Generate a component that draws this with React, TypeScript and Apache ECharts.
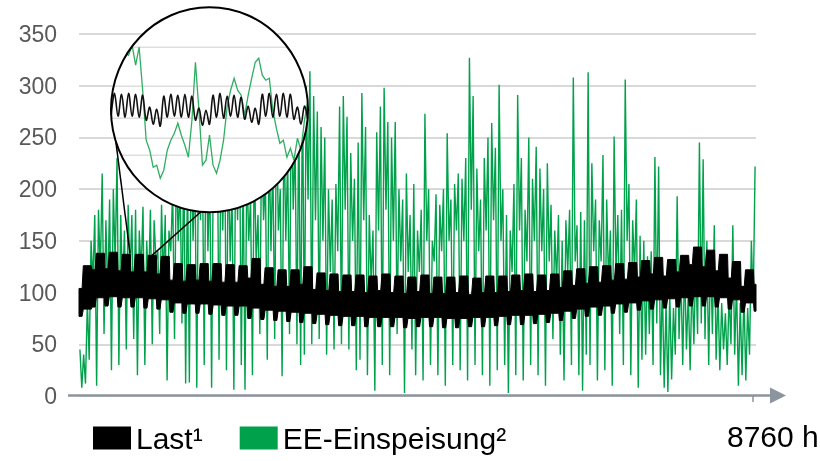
import React, { useEffect, useRef } from "react";
import * as echarts from "echarts";

// ---------- data ----------
const HOURS = 8760;
const Y_MAX = 350;
const Y_STEP = 50;

// EE-Einspeisung (renewable feed-in), one reading per day, per month
const eeJan = [45, 8, 40, 12, 90, 35, 150, 110, 175, 10, 180, 120, 215, 60, 170, 95, 190, 25, 200, 130, 230, 30, 175, 100, 160, 45, 185, 115, 175, 55, 180];
const eeFeb = [20, 160, 120, 183, 30, 150, 105, 180, 50, 170, 130, 140, 60, 185, 110, 175, 15, 160, 140, 200, 55, 230, 150, 210, 70, 240, 12, 220];
const eeMar = [13, 250, 150, 230, 8, 260, 170, 240, 30, 270, 140, 220, 8, 250, 180, 280, 35, 230, 160, 260, 25, 240, 130, 200, 6, 250, 170, 270, 30, 220, 6];
const eeApr = [230, 150, 190, 20, 240, 130, 175, 60, 260, 170, 210, 35, 250, 140, 230, 55, 280, 160, 200, 19, 270, 150, 230, 60, 300, 180, 250, 50, 280, 30];
const eeMay = [310, 40, 300, 190, 314, 50, 290, 170, 275, 55, 260, 150, 250, 40, 200, 120, 190, 45, 205, 140, 280, 50, 290, 180, 270, 45, 235, 150, 210, 25, 245];
const eeJun = [35, 293, 170, 260, 20, 175, 110, 160, 5, 255, 160, 280, 30, 298, 180, 265, 20, 250, 150, 265, 60, 200, 130, 190, 3, 215, 120, 175, 45, 205];
const eeJul = [20, 160, 120, 180, 15, 273, 150, 200, 30, 150, 130, 195, 20, 185, 140, 200, 10, 254, 150, 190, 30, 205, 160, 215, 25, 210, 150, 230, 15, 327, 180];
const eeAug = [290, 30, 220, 140, 190, 20, 230, 160, 250, 10, 264, 170, 240, 25, 301, 150, 200, 30, 175, 3, 160, 120, 205, 20, 291, 160, 230, 15, 180, 130, 250];
const eeSep = [30, 210, 150, 241, 20, 220, 140, 200, 10, 225, 130, 185, 55, 160, 110, 175, 40, 150, 15, 170, 120, 180, 30, 308, 130, 165, 20, 178, 5, 170];
const eeOct = [40, 313, 30, 225, 140, 190, 15, 170, 130, 233, 25, 190, 110, 160, 10, 251, 120, 175, 60, 180, 30, 306, 150, 205, 20, 170, 120, 190, 8, 155, 35];
const eeNov = [150, 40, 135, 60, 140, 30, 231, 70, 222, 20, 110, 8, 90, 4, 100, 16, 85, 40, 193, 55, 120, 30, 130, 45, 100, 25, 115, 50, 130, 60];
const eeDec = [245, 70, 229, 55, 150, 30, 140, 60, 165, 35, 100, 25, 90, 45, 80, 30, 100, 50, 165, 40, 110, 10, 90, 20, 100, 15, 85, 40, 150, 90, 222];

// Last (load): weekly envelope (week starts with the weekend), weekday and weekend levels
const loadTopWeekday = [126, 138, 139, 137, 137, 136, 135, 128, 127, 128, 128, 127, 126, 133, 124, 122, 122, 125, 119, 118, 117, 117, 116, 118, 116, 115, 117, 115, 115, 116, 114, 116, 116, 117, 118, 117, 118, 121, 123, 125, 126, 128, 129, 131, 134, 132, 136, 144, 141, 137, 130, 122, 110];
const loadTopWeekend = [104, 122, 123, 121, 120, 120, 118, 112, 111, 112, 111, 110, 110, 114, 108, 106, 106, 108, 103, 102, 101, 101, 100, 102, 100, 99, 101, 99, 99, 100, 98, 100, 100, 101, 102, 101, 102, 105, 107, 109, 110, 112, 113, 115, 118, 116, 120, 127, 125, 121, 114, 106, 108];
const loadBottomWeekday = [84, 95, 96, 95, 95, 94, 93, 90, 89, 89, 88, 87, 87, 85, 83, 82, 81, 80, 79, 78, 77, 77, 76, 76, 76, 75, 76, 76, 75, 75, 76, 76, 77, 78, 78, 79, 80, 82, 84, 86, 87, 89, 90, 92, 93, 94, 95, 96, 96, 95, 93, 90, 85];
const loadBottomWeekend = [77, 86, 87, 86, 86, 85, 84, 81, 80, 80, 79, 78, 78, 75, 74, 73, 72, 71, 70, 69, 68, 68, 67, 67, 67, 66, 67, 67, 66, 66, 67, 67, 68, 69, 69, 70, 71, 73, 75, 77, 78, 80, 81, 83, 84, 85, 86, 87, 87, 86, 84, 81, 82];

// Magnifier inset (half-day steps, inset units)
const insetLoad = [96, 119, 96, 118, 95, 119, 96, 118, 95, 117, 92, 105, 88, 103, 86, 116, 95, 118, 96, 117, 95, 118, 95, 116, 92, 104, 87, 102, 88, 117, 95, 119, 94, 116, 96, 117, 95, 115, 93, 106, 90, 104, 88, 118, 96, 119, 95, 118, 96, 119, 95, 118, 93, 105, 88, 106, 92];
const insetEE = [122, 132, 144, 152, 159, 157, 167, 147, 165, 122, 72, 62, 45, 47, 34, 42, 62, 72, 79, 89, 77, 67, 55, 92, 150, 102, 47, 52, 77, 47, 39, 52, 72, 105, 122, 134, 122, 117, 97, 117, 134, 150, 154, 137, 132, 134, 102, 84, 69, 72, 55, 64, 52, 74, 62, 92, 112];
const insetGridValues = [165, 126, 94, 74, 57];
const connectorHours = [660, 945];
const connectorValues = [138, 136];

const legendNames = ["Last\u00b9", "EE-Einspeisung\u00b2"];
const xEndLabel = "8760 h";

// ---------- styling / layout ----------
const FONT = '"Liberation Sans", Arial, Helvetica, sans-serif';
const GREEN = "#00a14b";
const AXIS_GREY = "#8c959d";
const ELL = { cx: 209.5, cy: 109.7, rx: 98.5, ry: 102.5 };
const CONNECTOR_ANGLES = [162, 95];

function clipToEllipse(pts: number[][]): number[][][] {
  const { cx, cy, rx, ry } = ELL;
  const runs: number[][][] = [];
  let cur: number[][] = [];
  for (let i = 0; i < pts.length - 1; i++) {
    const a = pts[i], b = pts[i + 1];
    const ax = (a[0] - cx) / rx, ay = (a[1] - cy) / ry;
    const bx = (b[0] - cx) / rx, by = (b[1] - cy) / ry;
    const dx = bx - ax, dy = by - ay;
    const A = dx * dx + dy * dy, B = 2 * (ax * dx + ay * dy), C = ax * ax + ay * ay - 1;
    const disc = B * B - 4 * A * C;
    if (A === 0 || disc <= 0) {
      if (cur.length) { runs.push(cur); cur = []; }
      continue;
    }
    const sq = Math.sqrt(disc);
    const t0 = (-B - sq) / (2 * A), t1 = (-B + sq) / (2 * A);
    const s = Math.max(0, t0), e = Math.min(1, t1);
    if (s >= e) {
      if (cur.length) { runs.push(cur); cur = []; }
      continue;
    }
    const P = (t: number) => [a[0] + (b[0] - a[0]) * t, a[1] + (b[1] - a[1]) * t];
    if (cur.length === 0) cur.push(P(s));
    cur.push(P(e));
    if (e < 1) { runs.push(cur); cur = []; }
  }
  if (cur.length) runs.push(cur);
  return runs;
}

function buildOption() {
  const eeDaily = [...eeJan, ...eeFeb, ...eeMar, ...eeApr, ...eeMay, ...eeJun, ...eeJul, ...eeAug, ...eeSep, ...eeOct, ...eeNov, ...eeDec];
  const eeData = eeDaily.map((v, d) => [d * 24 + 12, v]);

  // load band vertices: [hour, bottom, top]
  const loadVerts: number[][] = [];
  for (let w = 0; w < loadTopWeekday.length; w++) {
    const b = w * 168;
    const verts = [
      [b, loadBottomWeekend[w], loadTopWeekend[w]],
      [b + 40, loadBottomWeekend[w], loadTopWeekend[w]],
      [b + 56, loadBottomWeekday[w], loadTopWeekday[w]],
      [b + 160, loadBottomWeekday[w], loadTopWeekday[w]],
    ];
    verts.forEach((v) => { if (v[0] <= HOURS) loadVerts.push(v); });
  }
  const lw = loadTopWeekend.length - 1;
  loadVerts.push([HOURS, loadBottomWeekend[lw], loadTopWeekend[lw]]);

  return {
    animation: false,
    textStyle: { fontFamily: FONT },
    grid: [
      { left: 79, right: 64, top: 34, bottom: 65 },
      { left: ELL.cx - ELL.rx, top: ELL.cy - ELL.ry, width: ELL.rx * 2, height: ELL.ry * 2 },
    ],
    xAxis: [
      { type: "value", gridIndex: 0, min: 0, max: HOURS, show: false },
      { type: "value", gridIndex: 1, min: 0, max: insetLoad.length - 1, show: false },
    ],
    yAxis: [
      {
        type: "value", gridIndex: 0, min: 0, max: Y_MAX, interval: Y_STEP,
        axisLine: { show: false }, axisTick: { show: false },
        axisLabel: { fontSize: 23, color: "#595959", margin: 22, fontFamily: FONT },
        splitLine: { lineStyle: { color: "#d9d9d9", width: 2 } },
      },
      { type: "value", gridIndex: 1, min: 0, max: ELL.ry * 2, show: false },
    ],
    legend: {
      data: [
        { name: legendNames[0], icon: "rect", itemStyle: { color: "#000" } },
        { name: legendNames[1], icon: "rect", itemStyle: { color: GREEN } },
      ],
      left: 93, top: 423, padding: 0,
      itemWidth: 38, itemHeight: 23, itemGap: 37,
      textStyle: { fontSize: 30, color: "#000", fontFamily: FONT },
    },
    series: [
      {
        name: legendNames[1], type: "line", data: eeData, showSymbol: false, symbol: "none",
        lineStyle: { color: GREEN, width: 1.4 }, itemStyle: { color: GREEN }, z: 2, silent: true,
      },
      {
        name: legendNames[0], type: "custom", xAxisIndex: 0, yAxisIndex: 0, z: 3, silent: true,
        data: [[0, 0]], itemStyle: { color: "#000" },
        renderItem: (_p: any, api: any) => {
          const top = loadVerts.map((v) => api.coord([v[0], v[2]]));
          const bot = loadVerts.map((v) => api.coord([v[0], v[1]])).reverse();
          return {
            type: "polygon",
            shape: { points: [...top, ...bot] },
            style: { fill: "#000", stroke: "#000", lineWidth: 1 },
          };
        },
      },
      {
        type: "custom", xAxisIndex: 0, yAxisIndex: 0, z: 4, silent: true, data: [[0, 0]],
        renderItem: (_p: any, api: any) => ({
          type: "group",
          children: connectorHours.map((h, i) => {
            const end = api.coord([h, connectorValues[i]]);
            const a = (CONNECTOR_ANGLES[i] * Math.PI) / 180;
            return {
              type: "line",
              shape: { x1: ELL.cx + ELL.rx * Math.cos(a), y1: ELL.cy + ELL.ry * Math.sin(a), x2: end[0], y2: end[1] },
              style: { stroke: "#000", lineWidth: 1.5 },
            };
          }),
        }),
      },
      {
        type: "custom", xAxisIndex: 1, yAxisIndex: 1, z: 5, silent: true, data: [[0, 0]],
        renderItem: (_p: any, api: any) => {
          const children: any[] = [];
          children.push({ type: "ellipse", shape: { ...ELL }, style: { fill: "#fff", stroke: "none" } });
          insetGridValues.forEach((gv) => {
            const y = api.coord([0, gv])[1];
            const k = (y - ELL.cy) / ELL.ry;
            if (Math.abs(k) >= 1) return;
            const hw = ELL.rx * Math.sqrt(1 - k * k);
            children.push({
              type: "line", shape: { x1: ELL.cx - hw, y1: y, x2: ELL.cx + hw, y2: y },
              style: { stroke: "#dedede", lineWidth: 1.5 },
            });
          });
          const gPts = insetEE.map((v, i) => api.coord([i, v]));
          clipToEllipse(gPts).forEach((run) =>
            children.push({ type: "polyline", shape: { points: run }, style: { stroke: "#2fae62", lineWidth: 1.3, fill: "none" } })
          );
          const bPts = insetLoad.map((v, i) => api.coord([i, v]));
          clipToEllipse(bPts).forEach((run) =>
            children.push({ type: "polyline", shape: { points: run, smooth: 0.35 }, style: { stroke: "#111", lineWidth: 1.6, fill: "none" } })
          );
          children.push({ type: "ellipse", shape: { ...ELL }, style: { fill: "none", stroke: "#000", lineWidth: 2 } });
          return { type: "group", children };
        },
      },
    ],
    graphic: [
      { type: "line", z: 100, shape: { x1: 68, y1: 395.5, x2: 774, y2: 395.5 }, style: { stroke: AXIS_GREY, lineWidth: 2.5 } },
      { type: "polygon", z: 100, shape: { points: [[770, 387.5], [786, 395.5], [770, 403.5]] }, style: { fill: AXIS_GREY } },
      { type: "line", z: 100, shape: { x1: 753, y1: 395, x2: 753, y2: 402 }, style: { stroke: AXIS_GREY, lineWidth: 1.5 } },
      {
        type: "text", z: 100, x: 727, y: 436.5,
        style: { text: xEndLabel, fontSize: 30, fontFamily: FONT, fill: "#000", align: "left", verticalAlign: "middle" },
      },
    ],
  };
}

export default function App() {
  const ref = useRef<HTMLDivElement>(null);
  useEffect(() => {
    if (!ref.current) return;
    const chart = echarts.init(ref.current, null, { renderer: "svg" });
    chart.setOption(buildOption() as any);
    return () => chart.dispose();
  }, []);
  return <div ref={ref} style={{ position: "fixed", left: 0, top: 0, width: 820, height: 461 }} />;
}
